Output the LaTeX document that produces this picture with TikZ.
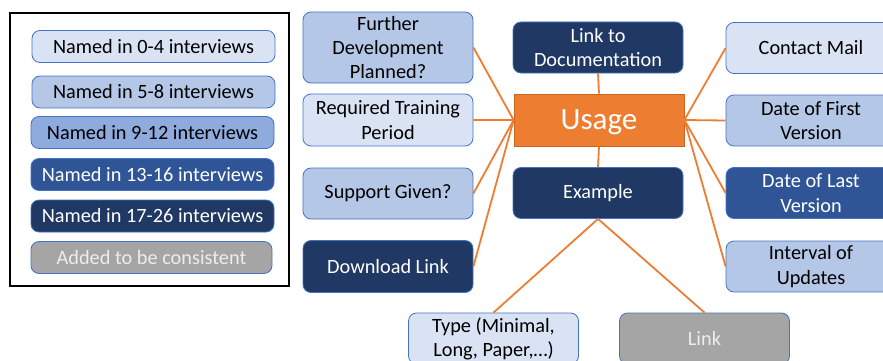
\documentclass[tikz,border=0pt]{standalone}
\usepackage{fontspec}
\setmainfont{Carlito}
\usepackage{tikz}
\usepackage{xcolor}

\definecolor{tierA}{HTML}{DAE3F3}
\definecolor{tierB}{HTML}{B4C7E7}
\definecolor{tierC}{HTML}{8FAADC}
\definecolor{tierD}{HTML}{2F5597}
\definecolor{tierE}{HTML}{203864}
\definecolor{tierX}{HTML}{A5A5A5}
\definecolor{rim}{HTML}{4472C4}
\definecolor{hub}{HTML}{ED7D31}
\definecolor{hubrim}{HTML}{C9651F}

\begin{document}
\begin{tikzpicture}[x=1pt, y=-1pt,
  box/.style={draw=rim, line width=.8pt, rounded corners=8pt, inner sep=0pt, align=center,
    minimum width=170pt, minimum height=51pt, font=\fontsize{20.3}{24.3}\selectfont},
  key/.style={box, minimum width=243pt, minimum height=32pt},
  lA/.style={fill=tierA, text=black}, lB/.style={fill=tierB, text=black},
  lC/.style={fill=tierC, text=black}, lD/.style={fill=tierD, text=white},
  lE/.style={fill=tierE, text=white}, lX/.style={fill=tierX, text=white!93!black},
  spoke/.style={draw=hub, line width=1.8pt}]
\useasboundingbox (0,0) rectangle (883,361);

% legend
\draw[line width=2pt] (10,13) rectangle (289,286);
\node[key, lA] (k04) at (153.5,46.5) {Named in 0-4 interviews};
\node[key, lB] (k58) at (153.5,92) {Named in 5-8 interviews};
\node[key, lC] (k912) at (152.5,132.5) {Named in 9-12 interviews};
\node[key, lD] (k1316) at (152.5,174.5) {Named in 13-16 interviews};
\node[key, lE] (k1726) at (152.5,216) {Named in 17-26 interviews};
\node[key, lX, minimum width=241pt] (kadd) at (151.5,257.5) {Added to be consistent};

% center
\node[fill=hub, draw=hubrim, line width=.8pt, text=white, minimum width=170pt, minimum height=52pt,
  text depth=0pt, font=\fontsize{31}{37}\selectfont] (usage) at (599,120) {Usage};

% left column
\node[box, lB, minimum height=71pt] (further) at (388,47.5) {Further\\Development\\Planned?};
\node[box, lA, minimum height=52pt] (training) at (388,120) {Required Training\\Period};
\node[box, lB] (support) at (388,193.5) {Support Given?};
\node[box, lE, minimum height=52pt] (download) at (388,266.5) {Download Link};

% middle column
\node[box, lE] (docs) at (598,47.5) {Link to\\Documentation};
\node[box, lE] (example) at (598,193) {Example};
\node[box, lA] (type) at (493.5,338.5) {Type (Minimal,\\Long, Paper,…)};
\node[box, lX] (link) at (704.5,338.5) {Link};

% right column
\node[box, lA] (mail) at (811,48) {Contact Mail};
\node[box, lB] (first) at (811,120.5) {Date of First\\Version};
\node[box, lD] (last) at (811,193) {Date of Last\\Version};
\node[box, lB] (interval) at (811,266.5) {Interval of\\Updates};

\foreach \n in {further, training, support, download}
  \draw[spoke] (usage.west) -- (\n.east);
\foreach \n in {mail, first, last, interval}
  \draw[spoke] (usage.east) -- (\n.west);
\draw[spoke] (docs.south) -- (usage.north);
\draw[spoke] (usage.south) -- (example.north);
\draw[spoke] (example.south) -- (type.north);
\draw[spoke] (example.south) -- (link.north);
\end{tikzpicture}
\end{document}
